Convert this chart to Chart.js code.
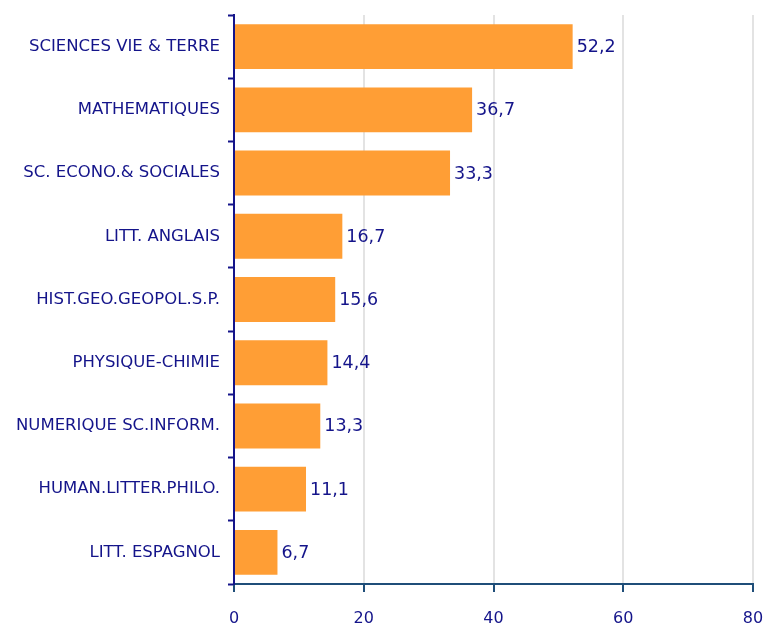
<!DOCTYPE html>
<html>
<head>
<meta charset="utf-8">
<script src="https://cdn.jsdelivr.net/npm/chart.js@4/dist/chart.umd.min.js"></script>
<style>
html,body{margin:0;padding:0;background:#fff;}
#wrap{width:766px;height:625px;position:relative;}
</style>
</head>
<body>
<div id="wrap"><canvas id="c" width="766" height="625"></canvas></div>
<script>
const categories = [
  "SCIENCES VIE & TERRE",
  "MATHEMATIQUES",
  "SC. ECONO.& SOCIALES",
  "LITT. ANGLAIS",
  "HIST.GEO.GEOPOL.S.P.",
  "PHYSIQUE-CHIMIE",
  "NUMERIQUE SC.INFORM.",
  "HUMAN.LITTER.PHILO.",
  "LITT. ESPAGNOL"
];
const values = [52.2, 36.7, 33.3, 16.7, 15.6, 14.4, 13.3, 11.1, 6.7];
const xTicks = [0, 20, 40, 60, 80];

const NAVY = "#14148a";
const FONT = "'DejaVu Sans', Verdana, sans-serif";

const valueLabels = {
  id: "valueLabels",
  afterDatasetsDraw(chart) {
    const ctx = chart.ctx;
    const meta = chart.getDatasetMeta(0);
    ctx.save();
    ctx.fillStyle = NAVY;
    ctx.font = "17.5px " + FONT;
    ctx.textAlign = "left";
    ctx.textBaseline = "middle";
    meta.data.forEach((bar, i) => {
      const txt = values[i].toFixed(1).replace(".", ",");
      ctx.fillText(txt, bar.x + 4, bar.y + 1);
    });
    ctx.restore();
  }
};

new Chart(document.getElementById("c"), {
  type: "bar",
  data: {
    labels: categories,
    datasets: [{
      data: values,
      backgroundColor: "#ff9e35",
      borderWidth: 0,
      categoryPercentage: 1,
      barPercentage: 0.71
    }]
  },
  options: {
    indexAxis: "y",
    responsive: false,
    animation: false,
    devicePixelRatio: 1,
    layout: { padding: { top: 15, right: 13, left: 0, bottom: 0 } },
    plugins: { legend: { display: false }, tooltip: { enabled: false } },
    scales: {
      x: {
        min: 0, max: 80,
        afterBuildTicks(scale) { scale.ticks = xTicks.map(v => ({ value: v })); },
        afterFit(scale) { scale.height = 41; scale.paddingLeft = 0; scale.paddingRight = 0; },
        grid: {
          color: "#e3e3e3",
          lineWidth: 2,
          drawTicks: true,
          tickLength: 8,
          tickColor: "#1f4e79",
          tickWidth: 2
        },
        border: { color: "#1f4e79", width: 2 },
        ticks: {
          color: NAVY,
          font: { family: FONT, size: 16 },
          padding: 17,
          maxRotation: 0
        }
      },
      y: {
        afterFit(scale) { scale.width = 234; scale.paddingTop = 0; scale.paddingBottom = 0; },
        grid: {
          offset: true,
          drawOnChartArea: false,
          drawTicks: true,
          tickLength: 6,
          tickColor: NAVY,
          tickWidth: 2
        },
        border: { color: NAVY, width: 2 },
        ticks: {
          color: NAVY,
          font: { family: FONT, size: 16.5 },
          padding: 8
        }
      }
    }
  },
  plugins: [valueLabels]
});
</script>
</body>
</html>
